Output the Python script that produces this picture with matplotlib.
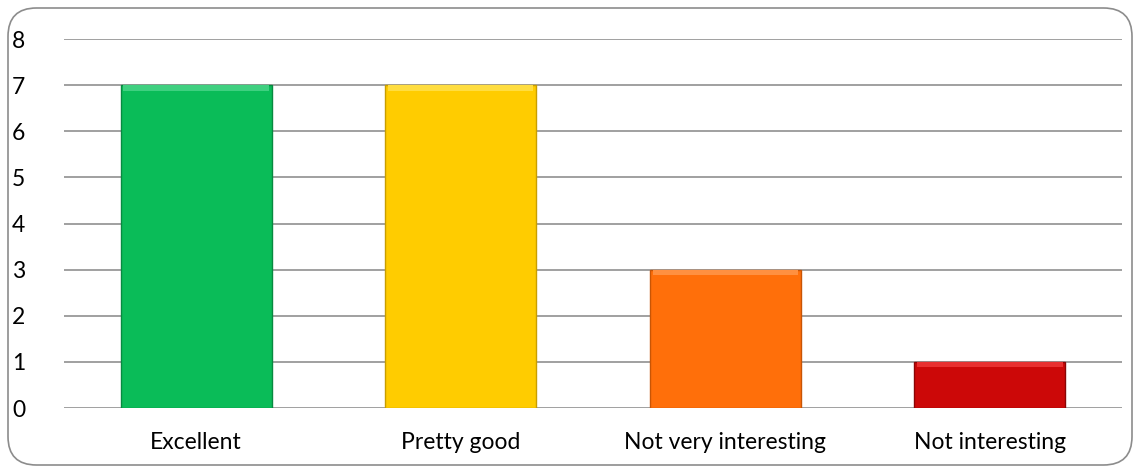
import numpy as np
from matplotlib import pyplot as plt
from matplotlib.patches import FancyBboxPatch

categories = ['Excellent', 'Pretty good', 'Not very interesting', 'Not interesting']
values = [7, 7, 3, 1]
colors = ['#0abc58', '#ffcc00', '#ff6f0a', '#cc0808']
edges = ['#078a40', '#c89e00', '#c85505', '#8a0505']
tops = ['#3fd080', '#ffdd40', '#ff9040', '#e83030']

plt.rcParams['font.family'] = ['Lato', 'DejaVu Sans']

fig = plt.figure(figsize=(11.38, 4.70), dpi=100)
ax = fig.add_axes([0.0562, 0.1319, 0.9298, 0.7851])

x = np.arange(len(categories))
ax.bar(x, values, width=0.57, color=colors, edgecolor=edges, linewidth=1.0, zorder=3)
# light bevel strip along the top of each bar
ax.bar(x, [0.12] * len(values), bottom=np.array(values) - 0.12, width=0.55,
       color=tops, linewidth=0, zorder=4)

ax.set_xlim(-0.5, len(categories) - 0.5)
ax.set_ylim(0, 8)
ax.set_yticks(range(0, 9))
ax.set_xticks(x)
ax.set_xticklabels(categories)
ax.tick_params(axis='both', length=0, labelsize=16.5, colors='black')
ax.tick_params(axis='y', pad=28)
ax.tick_params(axis='x', pad=17)

ax.grid(axis='y', color='#a0a0a0', linewidth=1.4, zorder=0)
ax.set_axisbelow(True)
for s in ax.spines.values():
    s.set_visible(False)

border = FancyBboxPatch((8 / 1138, 5 / 470), 1124 / 1138, 457 / 470,
                        boxstyle='round,pad=0,rounding_size=0.025',
                        transform=fig.transFigure, fill=False,
                        edgecolor='#8c8c8c', linewidth=1.2,
                        mutation_aspect=1138 / 470)
fig.patches.append(border)

plt.savefig('out.png', dpi=100)
